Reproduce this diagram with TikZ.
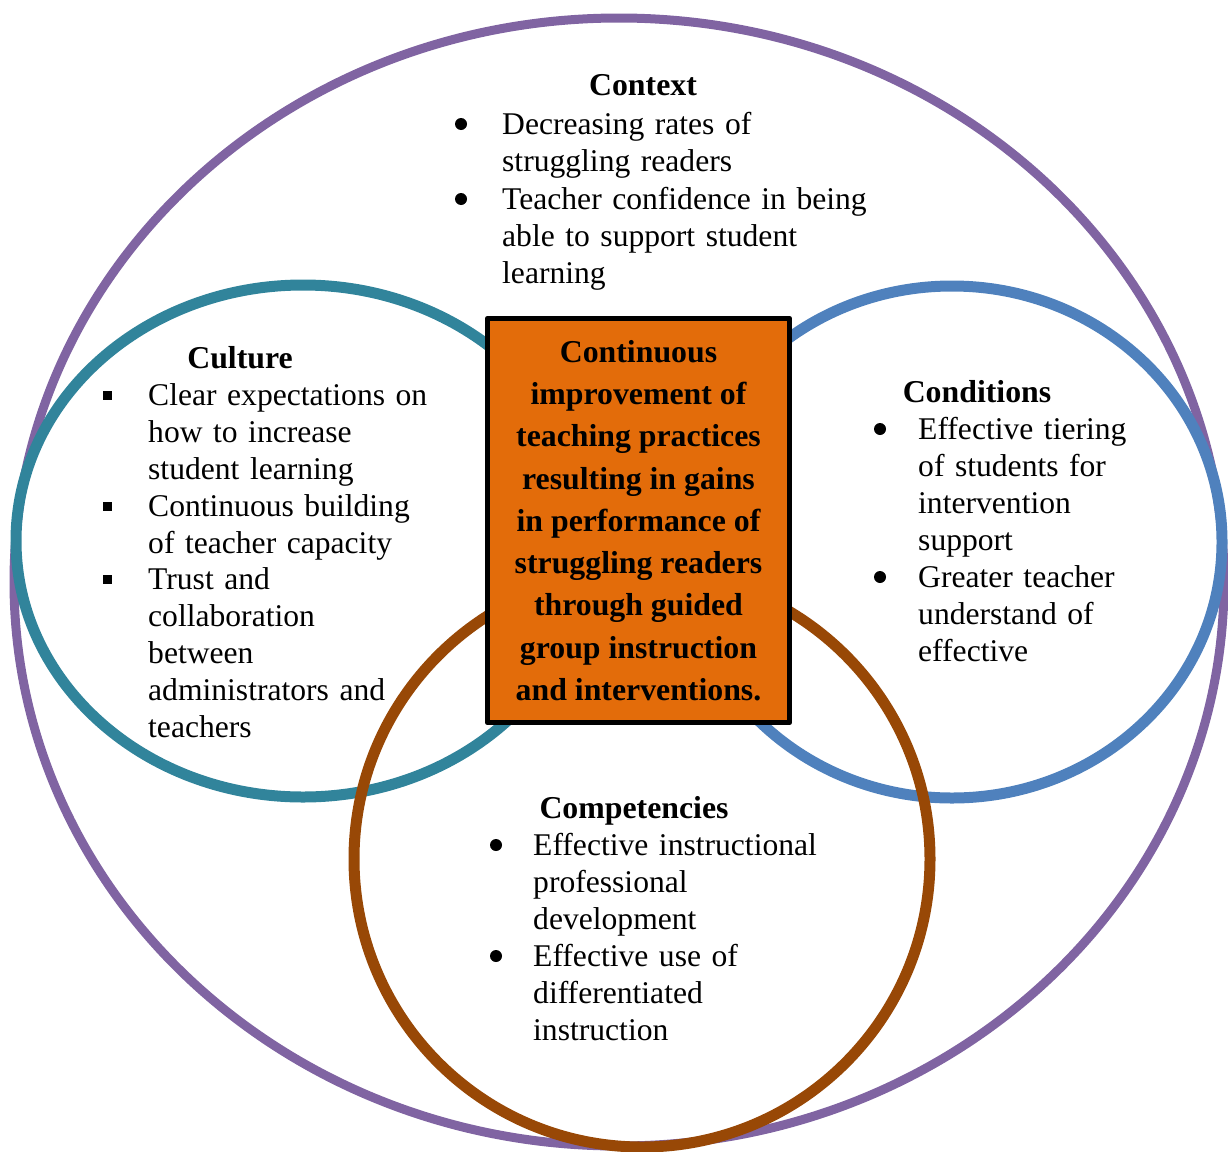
\documentclass[tikz,border=0pt]{standalone}
\usepackage{fontspec}
\setmainfont{Liberation Serif}
\usetikzlibrary{calc}

\definecolor{ringpurple}{RGB}{128,100,162}
\definecolor{ringteal}{RGB}{49,132,155}
\definecolor{ringblue}{RGB}{79,129,189}
\definecolor{ringbrown}{RGB}{152,72,6}
\definecolor{coreorange}{RGB}{227,108,10}

\tikzset{
  heading/.style={anchor=base, inner sep=0pt, font=\fontsize{31.8}{37}\selectfont\bfseries},
  itemtext/.style={anchor=base west, inner sep=0pt, text width=420pt, align=left, font=\fontsize{31.6}{37}\selectfont},
  dotbul/.style={circle, fill=black, inner sep=0pt, minimum size=12pt},
  sqbul/.style={rectangle, fill=black, inner sep=0pt, minimum size=9pt},
  corebox/.style={draw=black, line width=5.5pt, fill=coreorange, minimum width=302pt, minimum height=404pt,
    inner sep=0pt, align=center, font=\fontsize{31.8}{42.3}\selectfont\bfseries},
}

\begin{document}
\begin{tikzpicture}[x=1pt, y=-1pt, line join=round]
\useasboundingbox (0,0) rectangle (1228,1151);
\draw[ringpurple, line width=9pt] (619,582) ellipse [x radius=605pt, y radius=564pt];
\draw[ringteal,   line width=11pt] (303,541) ellipse [x radius=287pt, y radius=256pt];
\draw[ringblue,   line width=11pt] (952,542) ellipse [x radius=270pt, y radius=256pt];
\draw[ringbrown,  line width=11pt] (642,859) ellipse [x radius=288pt, y radius=288pt];

\node[corebox] (core) at (638.5,520.5) {Continuous\\improvement of\\teaching practices\\resulting in gains\\in performance of\\struggling readers\\through guided\\group instruction\\and interventions.};

\node[heading] (ctxhead) at (643,95) {Context};
\node[itemtext] (ctx1) at (502,134) {Decreasing rates of\\struggling readers};
\node[itemtext] (ctx2) at (502,209) {Teacher confidence in being\\able to support student\\learning};
\node[dotbul] (ctx1b) at ($(ctx1.base west)+(-41,-10)$) {};
\node[dotbul] (ctx2b) at ($(ctx2.base west)+(-41,-10)$) {};

\node[heading] (culhead) at (240,368) {Culture};
\node[itemtext] (cul1) at (148,405) {Clear expectations on\\how to increase\\student learning};
\node[itemtext] (cul2) at (148,516) {Continuous building\\of teacher capacity};
\node[itemtext] (cul3) at (148,589) {Trust and\\collaboration\\between\\administrators and\\teachers};
\node[sqbul] (cul1b) at ($(cul1.base west)+(-40.5,-10)$) {};
\node[sqbul] (cul2b) at ($(cul2.base west)+(-40.5,-10)$) {};
\node[sqbul] (cul3b) at ($(cul3.base west)+(-40.5,-10)$) {};

\node[heading] (conhead) at (977,402) {Conditions};
\node[itemtext] (con1) at (918,439) {Effective tiering\\of students for\\intervention\\support};
\node[itemtext] (con2) at (918,587) {Greater teacher\\understand of\\effective};
\node[dotbul] (con1b) at ($(con1.base west)+(-38,-10)$) {};
\node[dotbul] (con2b) at ($(con2.base west)+(-38,-10)$) {};

\node[heading] (comhead) at (634,818) {Competencies};
\node[itemtext] (com1) at (533,855) {Effective instructional\\professional\\development};
\node[itemtext] (com2) at (533,966) {Effective use of\\differentiated\\instruction};
\node[dotbul] (com1b) at ($(com1.base west)+(-37,-10)$) {};
\node[dotbul] (com2b) at ($(com2.base west)+(-37,-10)$) {};
\end{tikzpicture}
\end{document}
